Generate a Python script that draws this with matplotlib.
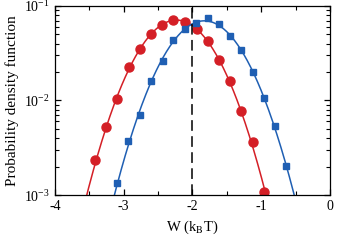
import matplotlib
matplotlib.use("Agg")
import matplotlib.pyplot as plt
import numpy as np
from matplotlib.ticker import MultipleLocator, LogLocator, NullFormatter

plt.rcParams['font.family'] = ['Liberation Serif', 'DejaVu Serif']
plt.rcParams['mathtext.fontset'] = 'stix'
plt.rcParams['axes.unicode_minus'] = False

# red circles
w_red = [-3.41, -3.25, -3.09, -2.92, -2.76, -2.60, -2.44, -2.28, -2.11,
         -1.94, -1.78, -1.62, -1.46, -1.29, -1.12, -0.96]
p_red = [10**-2.63, 10**-2.28, 10**-1.98, 10**-1.65, 10**-1.46, 10**-1.30,
         10**-1.20, 10**-1.15, 10**-1.17, 10**-1.24, 10**-1.37, 10**-1.57,
         10**-1.79, 10**-2.11, 10**-2.44, 10**-2.97]

# blue squares
w_blue = [-3.09, -2.93, -2.76, -2.60, -2.43, -2.28, -2.11, -1.95, -1.78,
          -1.62, -1.46, -1.30, -1.12, -0.96, -0.80, -0.64]
p_blue = [10**-2.87, 10**-2.43, 10**-2.15, 10**-1.79, 10**-1.58, 10**-1.36,
          10**-1.24, 10**-1.18, 10**-1.13, 10**-1.19, 10**-1.32, 10**-1.47,
          10**-1.70, 10**-1.97, 10**-2.27, 10**-2.69]

w_mark = -2.0

red = '#d41f26'
blue = '#1f5fb3'

fig = plt.figure(figsize=(3.37, 2.46), dpi=100)
ax = fig.add_axes([0.163, 0.207, 0.816, 0.769])

# smooth fitted curves (quadratic in log space)
xx = np.linspace(-4, 0, 400)
for w, p, c, m, ms in [(w_red, p_red, red, 'o', 6.5), (w_blue, p_blue, blue, 's', 4.8)]:
    coef = np.polyfit(w, np.log10(p), 2)
    ax.plot(xx, 10**np.polyval(coef, xx), color=c, lw=1.1)
    ax.plot(w, p, m, color=c, ms=ms, mec=c)

ax.axvline(w_mark, color='black', lw=1.1, ls=(0, (7, 3.5)))

ax.set_yscale('log')
ax.set_xlim(-4, 0)
ax.set_ylim(1e-3, 1e-1)
ax.xaxis.set_major_locator(MultipleLocator(1))
ax.xaxis.set_minor_locator(MultipleLocator(0.5))
ax.yaxis.set_minor_locator(LogLocator(base=10, subs=np.arange(2, 10)))
ax.yaxis.set_minor_formatter(NullFormatter())
ax.tick_params(which='both', direction='in', top=True, right=True, labelsize=10)
ax.tick_params(which='major', length=4, width=0.9)
ax.tick_params(which='minor', length=3, width=0.8)
for s in ax.spines.values():
    s.set_linewidth(0.9)

ax.set_xlabel('W (k$_\\mathrm{B}$T)', fontsize=10.5)
ax.set_ylabel('Probability density function', fontsize=11)

fig.savefig('out.png', dpi=100)
